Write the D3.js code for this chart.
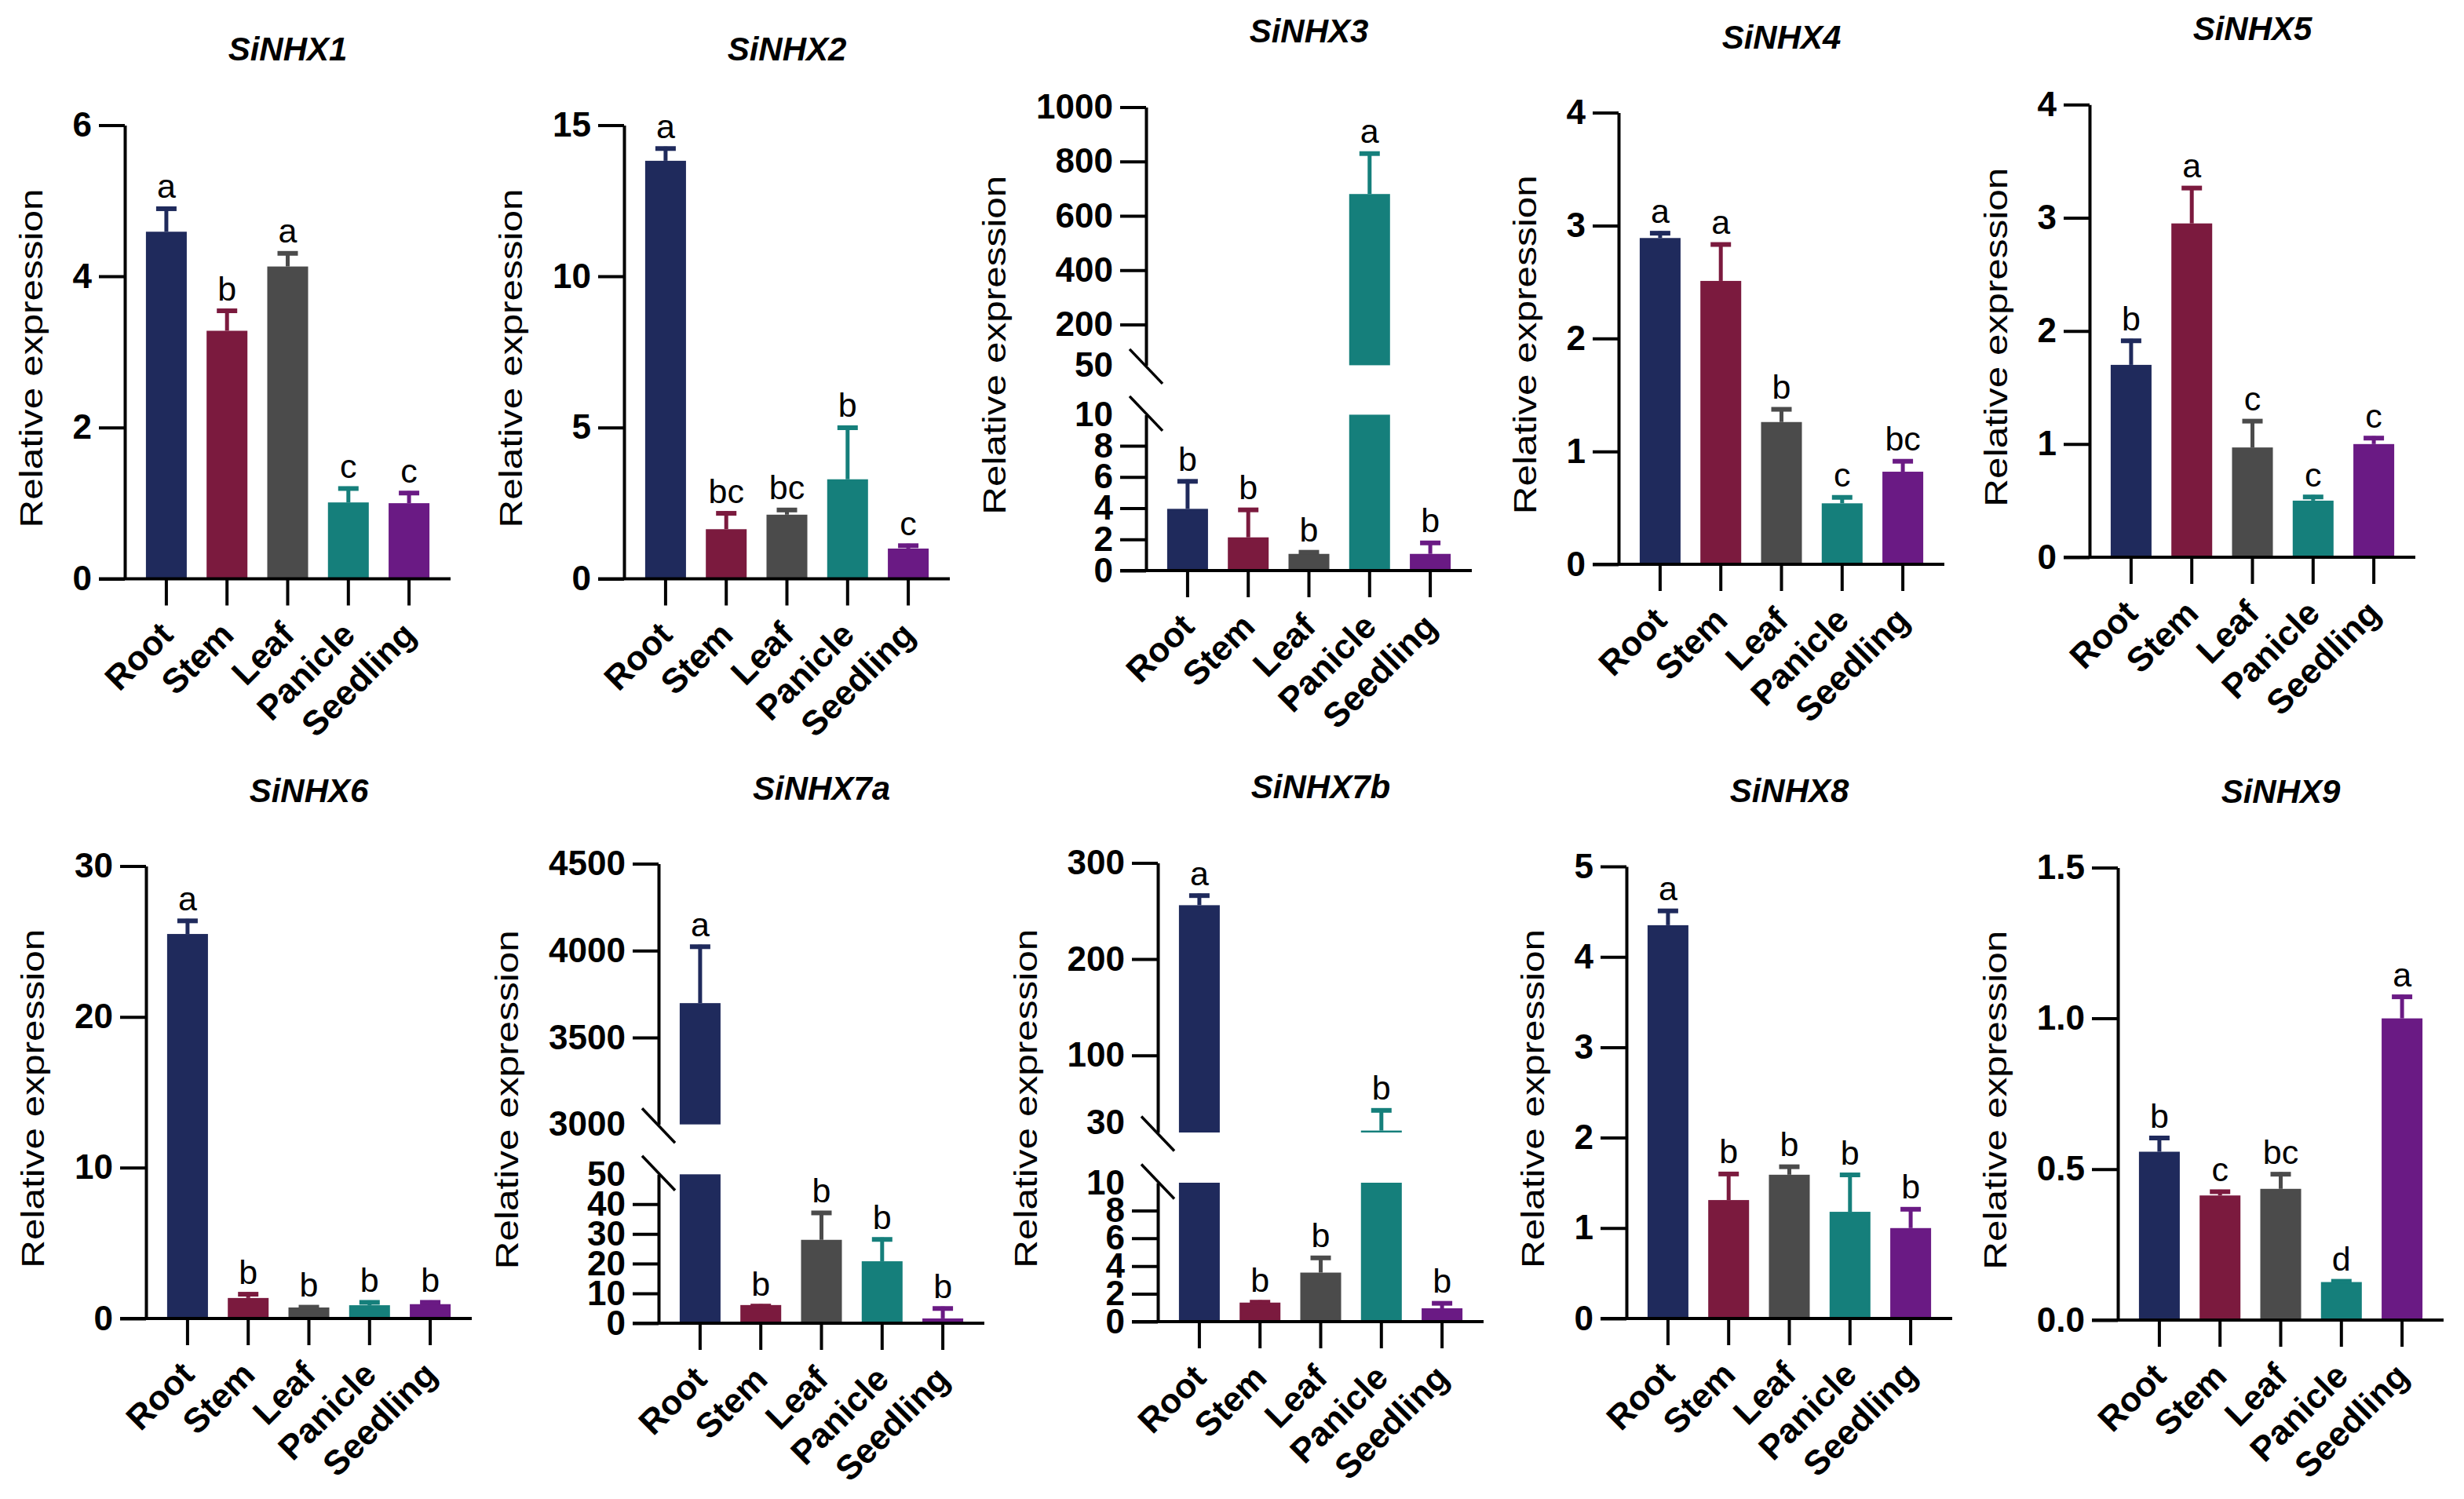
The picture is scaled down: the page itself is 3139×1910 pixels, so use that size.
<!DOCTYPE html>
<html><head><meta charset="utf-8">
<script src="https://cdn.jsdelivr.net/npm/d3@7/dist/d3.min.js"></script>
<style>html,body{margin:0;padding:0;background:#fff;} svg{display:block;background:#fff;}</style>
</head><body><svg id="chart" width="3139" height="1910"></svg>
<script>
// ---------------- DATA ----------------
const categories = ["Root", "Stem", "Leaf", "Panicle", "Seedling"];
const genes = ["SiNHX1", "SiNHX2", "SiNHX3", "SiNHX4", "SiNHX5", "SiNHX6", "SiNHX7a", "SiNHX7b", "SiNHX8", "SiNHX9"];
const yTitle = "Relative expression";

const nhx1Mean = [4.59, 3.28, 4.13, 1.01, 1.00];
const nhx1Err = [0.33, 0.29, 0.20, 0.21, 0.16];
const nhx1Letters = ["a", "b", "a", "c", "c"];
const nhx1Ticks = [0, 2, 4, 6];

const nhx2Mean = [13.82, 1.64, 2.12, 3.29, 1.00];
const nhx2Err = [0.47, 0.59, 0.22, 1.77, 0.16];
const nhx2Letters = ["a", "bc", "bc", "b", "c"];
const nhx2Ticks = [0, 5, 10, 15];

const nhx3Mean = [3.96, 2.13, 1.07, 680, 1.07];
const nhx3Err = [1.89, 1.89, 0.23, 156, 0.83];
const nhx3Letters = ["b", "b", "b", "a", "b"];
const nhx3LowerDomain = [0, 10];
const nhx3UpperDomain = [50, 1000];
const nhx3LowerTicks = [0, 2, 4, 6, 8, 10];
const nhx3UpperTicks = [50, 200, 400, 600, 800, 1000];

const nhx4Mean = [2.89, 2.51, 1.26, 0.54, 0.82];
const nhx4Err = [0.06, 0.34, 0.13, 0.07, 0.11];
const nhx4Letters = ["a", "a", "b", "c", "bc"];
const nhx4Ticks = [0, 1, 2, 3, 4];

const nhx5Mean = [1.70, 2.95, 0.97, 0.50, 1.00];
const nhx5Err = [0.23, 0.33, 0.25, 0.05, 0.07];
const nhx5Letters = ["b", "a", "c", "c", "c"];
const nhx5Ticks = [0, 1, 2, 3, 4];

const nhx6Mean = [25.5, 1.36, 0.73, 0.88, 0.95];
const nhx6Err = [1.0, 0.38, 0.15, 0.32, 0.25];
const nhx6Letters = ["a", "b", "b", "b", "b"];
const nhx6Ticks = [0, 10, 20, 30];

const nhx7aMean = [3698, 6.1, 28.0, 20.8, 1.6];
const nhx7aErr = [336, 0.3, 9.7, 8.0, 4.0];
const nhx7aLetters = ["a", "b", "b", "b", "b"];
const nhx7aLowerDomain = [0, 50];
const nhx7aUpperDomain = [3000, 4500];
const nhx7aLowerTicks = [0, 10, 20, 30, 40, 50];
const nhx7aUpperTicks = [3000, 3500, 4000, 4500];

const nhx7bMean = [256, 1.37, 3.53, 22, 0.96];
const nhx7bErr = [12, 0.17, 1.2, 23, 0.5];
const nhx7bLetters = ["a", "b", "b", "b", "b"];
const nhx7bLowerDomain = [0, 10];
const nhx7bUpperDomain = [20, 300];
const nhx7bLowerTicks = [0, 2, 4, 6, 8, 10];
const nhx7bUpperTicks = [30, 100, 200, 300];

const nhx8Mean = [4.35, 1.31, 1.59, 1.18, 1.00];
const nhx8Err = [0.18, 0.31, 0.11, 0.43, 0.23];
const nhx8Letters = ["a", "b", "b", "b", "b"];
const nhx8Ticks = [0, 1, 2, 3, 4, 5];

const nhx9Mean = [0.558, 0.413, 0.435, 0.126, 1.00];
const nhx9Err = [0.052, 0.019, 0.055, 0.009, 0.078];
const nhx9Letters = ["b", "c", "bc", "d", "a"];
const nhx9Ticks = [0, 0.5, 1.0, 1.5];

// ---------------- STYLE / LAYOUT ----------------
const barColors = ["#1f2a5c", "#7b1a3e", "#4b4b4b", "#157f7b", "#6a1a84"];
const FONT = "'Liberation Sans', Arial, Helvetica, sans-serif";
const fmtInt = d3.format("d"), fmt1 = d3.format(".1f");

const panels = [
  {gene: genes[0], mean: nhx1Mean, err: nhx1Err, letters: nhx1Letters, ticks: nhx1Ticks, fmt: fmtInt},
  {gene: genes[1], mean: nhx2Mean, err: nhx2Err, letters: nhx2Letters, ticks: nhx2Ticks, fmt: fmtInt},
  {gene: genes[2], mean: nhx3Mean, err: nhx3Err, letters: nhx3Letters, fmt: fmtInt,
   lower: nhx3LowerDomain, upper: nhx3UpperDomain, lowerTicks: nhx3LowerTicks, upperTicks: nhx3UpperTicks},
  {gene: genes[3], mean: nhx4Mean, err: nhx4Err, letters: nhx4Letters, ticks: nhx4Ticks, fmt: fmtInt},
  {gene: genes[4], mean: nhx5Mean, err: nhx5Err, letters: nhx5Letters, ticks: nhx5Ticks, fmt: fmtInt},
  {gene: genes[5], mean: nhx6Mean, err: nhx6Err, letters: nhx6Letters, ticks: nhx6Ticks, fmt: fmtInt},
  {gene: genes[6], mean: nhx7aMean, err: nhx7aErr, letters: nhx7aLetters, fmt: fmtInt,
   lower: nhx7aLowerDomain, upper: nhx7aUpperDomain, lowerTicks: nhx7aLowerTicks, upperTicks: nhx7aUpperTicks},
  {gene: genes[7], mean: nhx7bMean, err: nhx7bErr, letters: nhx7bLetters, fmt: fmtInt,
   lower: nhx7bLowerDomain, upper: nhx7bUpperDomain, lowerTicks: nhx7bLowerTicks, upperTicks: nhx7bUpperTicks},
  {gene: genes[8], mean: nhx8Mean, err: nhx8Err, letters: nhx8Letters, ticks: nhx8Ticks, fmt: fmtInt},
  {gene: genes[9], mean: nhx9Mean, err: nhx9Err, letters: nhx9Letters, ticks: nhx9Ticks, fmt: fmt1}
];

// pixel frames for each panel (axis x, top of y range, zero line, break positions)
const frames = [
  {ax: 159, top: 159.4, zero: 737.5},
  {ax: 795, top: 159.4, zero: 737.5},
  {ax: 1460, top: 136.4, zero: 727, lowTop: 528.4, highBottom: 465.4},
  {ax: 2062, top: 143.6, zero: 719},
  {ax: 2662, top: 133.3, zero: 710},
  {ax: 186, top: 1103.6, zero: 1680},
  {ax: 839, top: 1100.6, zero: 1686, lowTop: 1496.3, highBottom: 1432.7},
  {ax: 1475, top: 1099.4, zero: 1684, lowTop: 1507, highBottom: 1443},
  {ax: 2072, top: 1104, zero: 1680},
  {ax: 2698, top: 1105.4, zero: 1682}
];

const PLOT_W = 415, TICK = 33, SW = 4;
const svg = d3.select("#chart");

function styleAxis(ga) {
  ga.attr("font-size", null).attr("font-family", null);
  ga.select(".domain").attr("stroke", "#000").attr("stroke-width", SW);
  ga.selectAll(".tick line").attr("stroke", "#000").attr("stroke-width", SW);
  ga.selectAll(".tick text").attr("fill", "#000").attr("font-family", FONT)
    .attr("font-size", 44).attr("font-weight", "bold");
}

panels.forEach((p, i) => {
  const f = frames[i];
  const g = svg.append("g");
  const x = d3.scaleBand().domain(categories).range([f.ax, f.ax + PLOT_W])
    .paddingInner(0.327).paddingOuter(0.348);
  const bw = x.bandwidth();
  const cx = c => x(c) + bw / 2;
  const broken = !!p.lower;

  let yPos, pieces;
  const axes = [];
  if (!broken) {
    const y = d3.scaleLinear().domain([0, d3.max(p.ticks)]).range([f.zero, f.top]);
    yPos = v => y(v);
    pieces = v => [[f.zero, y(v)]];
    const ga = g.append("g").attr("transform", `translate(${f.ax},0)`)
      .call(d3.axisLeft(y).tickValues(p.ticks).tickSize(TICK).tickSizeOuter(0).tickPadding(9).tickFormat(p.fmt));
    styleAxis(ga); axes.push(ga);
  } else {
    const yL = d3.scaleLinear().domain(p.lower).range([f.zero, f.lowTop]);
    const yU = d3.scaleLinear().domain(p.upper).range([f.highBottom, f.top]);
    yPos = v => v <= p.lower[1] ? yL(v) : yU(Math.max(v, p.upper[0]));
    pieces = v => v <= p.lower[1] ? [[f.zero, yL(v)]]
      : [[f.zero, f.lowTop], [f.highBottom, yU(Math.max(v, p.upper[0]))]];
    const gl = g.append("g").attr("transform", `translate(${f.ax},0)`)
      .call(d3.axisLeft(yL).tickValues(p.lowerTicks).tickSize(TICK).tickSizeOuter(0).tickPadding(9).tickFormat(p.fmt));
    const gu = g.append("g").attr("transform", `translate(${f.ax},0)`)
      .call(d3.axisLeft(yU).tickValues(p.upperTicks).tickSize(TICK).tickSizeOuter(0).tickPadding(9).tickFormat(p.fmt));
    styleAxis(gl); styleAxis(gu); axes.push(gl, gu);
    // break boundary values carry a label but no tick line
    gl.selectAll(".tick").filter(d => d === p.lower[1]).select("line").remove();
    gu.selectAll(".tick").filter(d => d === p.upperTicks[0]).select("line").remove();
    // break slashes
    [f.highBottom + 1.5, f.lowTop - 1.5].forEach(yy => {
      g.append("line").attr("x1", f.ax - 21).attr("y1", yy - 22).attr("x2", f.ax + 21).attr("y2", yy + 22)
        .attr("stroke", "#000").attr("stroke-width", 3.5);
    });
  }

  // bars
  categories.forEach((c, k) => {
    const v = p.mean[k], e = p.err[k], col = barColors[k];
    pieces(v).forEach(([y0, y1]) => {
      g.append("rect").attr("x", x(c)).attr("width", bw)
        .attr("y", Math.min(y0, y1)).attr("height", Math.max(Math.abs(y0 - y1), 0.5))
        .attr("fill", col);
    });
    const yb = yPos(v), ye = yPos(v + e);
    g.append("line").attr("x1", cx(c)).attr("x2", cx(c)).attr("y1", yb).attr("y2", ye)
      .attr("stroke", col).attr("stroke-width", 5);
    g.append("line").attr("x1", cx(c) - 13).attr("x2", cx(c) + 13).attr("y1", ye + 2.5).attr("y2", ye + 2.5)
      .attr("stroke", col).attr("stroke-width", 6);
    g.append("text").attr("x", cx(c)).attr("y", ye - 11).attr("text-anchor", "middle")
      .attr("font-family", FONT).attr("font-size", 43).attr("fill", "#000").text(p.letters[k]);
  });

  // x axis line and ticks
  g.append("line").attr("x1", f.ax - TICK).attr("x2", f.ax + PLOT_W).attr("y1", f.zero).attr("y2", f.zero)
    .attr("stroke", "#000").attr("stroke-width", SW);
  g.selectAll("line.xt").data(categories).join("line").attr("class", "xt")
    .attr("x1", d => cx(d)).attr("x2", d => cx(d)).attr("y1", f.zero).attr("y2", f.zero + 34)
    .attr("stroke", "#000").attr("stroke-width", SW);
  g.selectAll("text.xl").data(categories).join("text").attr("class", "xl")
    .attr("transform", d => `translate(${cx(d) + 11},${f.zero + 74}) rotate(-45)`)
    .attr("text-anchor", "end").attr("font-family", FONT).attr("font-size", 44)
    .attr("font-weight", "bold").attr("fill", "#000").text(d => d);

  // y title
  let minX = Infinity;
  axes.forEach(a => { const b = a.node().getBBox(); minX = Math.min(minX, f.ax + b.x); });
  const ylx = minX - 31 - 8;
  const yly = (f.top + f.zero) / 2 + 8;
  g.append("text").attr("transform", `translate(${ylx},${yly}) rotate(-90)`)
    .attr("text-anchor", "middle").attr("font-family", FONT).attr("font-size", 41)
    .attr("textLength", 432).attr("lengthAdjust", "spacingAndGlyphs")
    .attr("fill", "#000").text(yTitle);

  // title
  g.append("text").attr("x", f.ax + PLOT_W / 2).attr("y", f.top - 82).attr("text-anchor", "middle")
    .attr("font-family", FONT).attr("font-size", 42).attr("font-weight", "bold").attr("font-style", "italic")
    .attr("fill", "#000").text(p.gene);
});
</script>
</body></html>
